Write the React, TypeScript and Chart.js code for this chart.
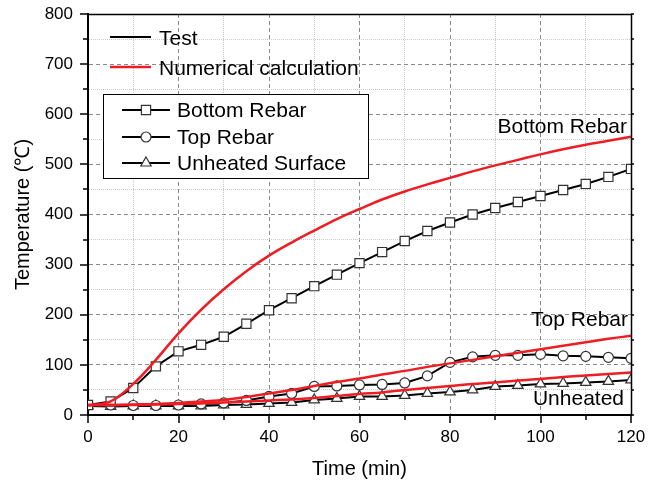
import React, { useEffect, useRef } from "react";
import { Chart, registerables } from "chart.js";

Chart.register(...registerables);

const time = [0, 5, 10, 15, 20, 25, 30, 35, 40, 45, 50, 55, 60, 65, 70, 75, 80, 85, 90, 95, 100, 105, 110, 115, 120];

const bottomTest = [20, 27, 54, 97, 127, 140, 156, 182, 209, 233, 257, 280, 303, 325, 347, 367, 384, 400, 413, 425, 437, 449, 461, 475, 491];
const topTest = [20, 20, 19, 19, 20, 22, 24, 29, 37, 43, 57, 58, 60, 61, 64, 78, 105, 116, 119, 119, 121, 118, 117, 115, 113];
const unheatedTest = [18, 17, 18, 18, 18, 18, 20, 21, 23, 25, 30, 33, 37, 37, 39, 43, 46, 50, 57, 59, 62, 63, 65, 67, 70];

const bottomCalc = [19, 27, 62, 110, 163, 210, 251, 287, 318, 344, 368, 391, 411, 430, 446, 460, 473, 486, 498, 509, 520, 530, 539, 547, 555];
const topCalc = [20, 20, 21, 22, 24, 27, 30, 36, 43, 50, 58, 66, 73, 81, 88, 96, 103, 110, 117, 124, 131, 138, 145, 152, 158];
const unheatedCalc = [20, 20, 20, 21, 22, 23, 25, 27, 29, 31, 34, 38, 42, 45, 50, 54, 58, 62, 65, 69, 72, 76, 79, 82, 85];

const seriesNames = ["Bottom Rebar", "Top Rebar", "Unheated Surface"];
const legendKinds = ["Test", "Numerical calculation"];
const curveLabels = ["Bottom Rebar", "Top Rebar", "Unheated"];

const xTitle = "Time (min)";
const yTitle = "Temperature (\u2103)";

const FONT = "'Liberation Sans', Arial, sans-serif";
const RED = "#ee1d24";
const MARK_BORDER = "#333333";

const toPts = (ys: number[]) => time.map((t, i) => ({ x: t, y: ys[i] }));

function drawMarker(ctx: CanvasRenderingContext2D, style: string, x: number, y: number, r: number) {
  ctx.beginPath();
  if (style === "rect") {
    const s = Math.SQRT1_2 * r;
    ctx.rect(x - s, y - s, 2 * s, 2 * s);
  } else if (style === "circle") {
    ctx.arc(x, y, r, 0, Math.PI * 2);
  } else {
    let rad = 0;
    ctx.moveTo(x + Math.sin(rad) * r, y - Math.cos(rad) * r);
    rad += (2 * Math.PI) / 3;
    ctx.lineTo(x + Math.sin(rad) * r, y - Math.cos(rad) * r);
    rad += (2 * Math.PI) / 3;
    ctx.lineTo(x + Math.sin(rad) * r, y - Math.cos(rad) * r);
    ctx.closePath();
  }
  ctx.fillStyle = "#ffffff";
  ctx.fill();
  ctx.lineWidth = 1.2;
  ctx.strokeStyle = MARK_BORDER;
  ctx.stroke();
}

const markerStyles = ["rect", "circle", "triangle"];
const markerRadii = [6.5, 5, 6];

const decorPlugin = {
  id: "decor",
  afterDraw(chart: any) {
    const ctx: CanvasRenderingContext2D = chart.ctx;
    const { left, right, top, bottom } = chart.chartArea;
    const xs = chart.scales.x;
    const ys = chart.scales.y;
    ctx.save();

    // frame top & right
    ctx.strokeStyle = "#000";
    ctx.lineWidth = 1.5;
    ctx.beginPath();
    ctx.moveTo(left, top + 0.5);
    ctx.lineTo(right, top + 0.5);
    ctx.moveTo(right + 0.5, top);
    ctx.lineTo(right + 0.5, bottom);
    ctx.stroke();

    // ticks
    ctx.lineWidth = 1.5;
    ctx.beginPath();
    xs.ticks.forEach((tk: any) => {
      const px = Math.round(xs.getPixelForValue(tk.value));
      const len = tk.value % 20 === 0 ? 8 : 5;
      ctx.moveTo(px, bottom);
      ctx.lineTo(px, bottom + len);
    });
    ys.ticks.forEach((tk: any) => {
      const py = Math.round(ys.getPixelForValue(tk.value));
      const len = tk.value % 100 === 0 ? 8 : 5;
      ctx.moveTo(left, py);
      ctx.lineTo(left - len, py);
      ctx.moveTo(right, py);
      ctx.lineTo(right + 3, py);
    });
    ctx.stroke();

    // axis titles
    ctx.fillStyle = "#000";
    ctx.font = `20px ${FONT}`;
    ctx.textAlign = "center";
    ctx.textBaseline = "alphabetic";
    ctx.fillText(xTitle, (left + right) / 2, 475);
    ctx.save();
    ctx.translate(29, (top + bottom) / 2);
    ctx.rotate(-Math.PI / 2);
    ctx.fillText(yTitle, 0, 0);
    ctx.restore();

    // curve labels
    ctx.font = `21px ${FONT}`;
    ctx.textAlign = "right";
    ctx.fillText(curveLabels[0], 627, 133);
    ctx.fillText(curveLabels[1], 628, 326);
    ctx.fillText(curveLabels[2], 624, 405);

    // legend 1
    ctx.textAlign = "left";
    ctx.lineWidth = 2;
    ctx.strokeStyle = "#000";
    ctx.beginPath();
    ctx.moveTo(110, 37);
    ctx.lineTo(151, 37);
    ctx.stroke();
    ctx.strokeStyle = RED;
    ctx.lineWidth = 2.5;
    ctx.beginPath();
    ctx.moveTo(110, 67);
    ctx.lineTo(151, 67);
    ctx.stroke();
    ctx.fillText(legendKinds[0], 159, 45);
    ctx.fillText(legendKinds[1], 159, 75);

    // legend 2 box
    ctx.fillStyle = "#fff";
    ctx.fillRect(103.5, 94.5, 265, 84);
    ctx.strokeStyle = "#000";
    ctx.lineWidth = 1;
    ctx.strokeRect(103.5, 94.5, 265, 84);
    const rows = [110, 137, 163];
    rows.forEach((ry, i) => {
      ctx.strokeStyle = "#000";
      ctx.lineWidth = 2;
      ctx.beginPath();
      ctx.moveTo(122, ry);
      ctx.lineTo(170, ry);
      ctx.stroke();
      drawMarker(ctx, markerStyles[i], 146, ry, markerRadii[i]);
      ctx.fillStyle = "#000";
      ctx.font = `21px ${FONT}`;
      ctx.textAlign = "left";
      ctx.fillText(seriesNames[i], 177, ry + 7);
    });

    ctx.restore();
  },
};

export default function App() {
  const ref = useRef<HTMLCanvasElement | null>(null);
  useEffect(() => {
    document.body.style.margin = "0";
    const canvas = ref.current;
    if (!canvas) return;
    const testSet = (label: string, ys: number[], style: string, r: number) => ({
      label,
      data: toPts(ys),
      borderColor: "#000",
      borderWidth: 2,
      pointStyle: style,
      pointRadius: r,
      pointBackgroundColor: "#fff",
      pointBorderColor: MARK_BORDER,
      pointBorderWidth: 1.2,
      tension: 0,
      order: 2,
    });
    const calcSet = (label: string, ys: number[]) => ({
      label,
      data: toPts(ys),
      borderColor: RED,
      borderWidth: 2.5,
      pointRadius: 0,
      tension: 0.4,
      order: 1,
    });
    const majorX = (v: number) => v % 20 === 0;
    const majorY = (v: number) => v % 100 === 0;
    const chart = new Chart(canvas, {
      type: "line",
      data: {
        datasets: [
          calcSet("Bottom calc", bottomCalc),
          calcSet("Top calc", topCalc),
          calcSet("Unheated calc", unheatedCalc),
          testSet(seriesNames[0], bottomTest, "rect", markerRadii[0]),
          testSet(seriesNames[1], topTest, "circle", markerRadii[1]),
          testSet(seriesNames[2], unheatedTest, "triangle", markerRadii[2]),
        ] as any,
      },
      options: {
        responsive: false,
        animation: false,
        devicePixelRatio: 1,
        layout: { padding: { left: 0, top: 14, right: 26, bottom: 0 } },
        plugins: { legend: { display: false }, tooltip: { enabled: false } },
        scales: {
          x: {
            type: "linear",
            min: 0,
            max: 120,
            afterFit: (s: any) => {
              s.height = 71;
              s.paddingLeft = 0;
              s.paddingRight = 0;
            },
            ticks: {
              stepSize: 10,
              autoSkip: false,
              maxRotation: 0,
              padding: 12,
              color: "#000",
              font: { family: FONT, size: 17 },
              callback: (v: any) => (majorX(Number(v)) ? String(v) : ""),
            },
            grid: {
              drawTicks: false,
              lineWidth: 1,
              color: (c: any) => {
                const v = c.tick ? c.tick.value : 0;
                if (v === 0 || v === 120) return "rgba(0,0,0,0)";
                return majorX(v) ? "#8a8a8a" : "#c8c8c8";
              },
            },
            border: {
              color: "#000",
              width: 2,
              dash: (c: any) => (c.tick && majorX(c.tick.value) ? [4, 3] : [1, 1]),
            } as any,
          },
          y: {
            type: "linear",
            min: 0,
            max: 800,
            afterFit: (s: any) => {
              s.width = 88;
              s.paddingTop = 0;
              s.paddingBottom = 0;
            },
            ticks: {
              stepSize: 50,
              autoSkip: false,
              padding: 15,
              color: "#000",
              font: { family: FONT, size: 17 },
              callback: (v: any) => (majorY(Number(v)) ? String(v) : ""),
            },
            grid: {
              drawTicks: false,
              lineWidth: 1,
              color: (c: any) => {
                const v = c.tick ? c.tick.value : 0;
                if (v === 0 || v === 800) return "rgba(0,0,0,0)";
                return majorY(v) ? "#8a8a8a" : "#c8c8c8";
              },
            },
            border: {
              color: "#000",
              width: 2,
              dash: (c: any) => (c.tick && majorY(c.tick.value) ? [4, 3] : [1, 1]),
            } as any,
          },
        },
      } as any,
      plugins: [decorPlugin],
    });
    return () => chart.destroy();
  }, []);
  return <canvas ref={ref} width={657} height={486} style={{ display: "block" }} />;
}
